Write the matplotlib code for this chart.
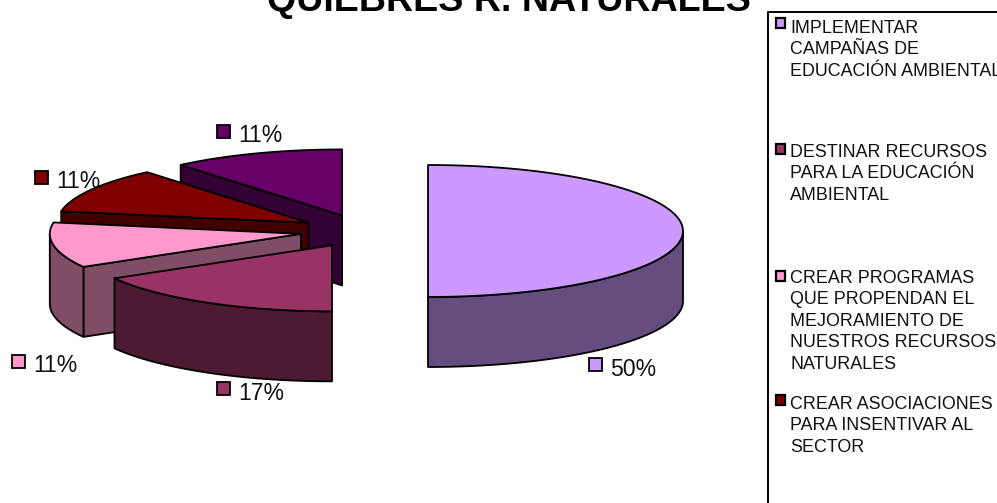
"""
Exploded 3D pie drawn by hand with polygons, matplotlib has no 3D pie.
"""
import numpy as np
import matplotlib
matplotlib.use('Agg')
import matplotlib.pyplot as plt
from matplotlib.patches import Polygon, Rectangle

plt.rcParams['font.family'] = ['Liberation Sans', 'DejaVu Sans']

title = 'QUIEBRES R. NATURALES'
values = [9, 3, 2, 2, 2]
pct_labels = ['50%', '17%', '11%', '11%', '11%']
colors = ['#CC99FF', '#993366', '#FF99CC', '#800000', '#660066']
legend_labels = [
    'IMPLEMENTAR\nCAMPAÑAS DE\nEDUCACIÓN AMBIENTAL',
    'DESTINAR RECURSOS\nPARA LA EDUCACIÓN\nAMBIENTAL',
    'CREAR PROGRAMAS\nQUE PROPENDAN EL\nMEJORAMIENTO DE\nNUESTROS RECURSOS\nNATURALES',
    'CREAR ASOCIACIONES\nPARA INSENTIVAR AL\nSECTOR',
]

# layout, in pixels of the figure
W, H = 997, 503
cx, cy = 364, 231
rx, ry = 255, 66
explode = 64
depth = 70
label_pos = [(610, 369), (238, 393), (33, 366), (56, 182), (238, 136)]
legend_text_y = [20, 144, 270, 396]
legend_mark_y = [18, 144, 271, 395]


def arc(x0, y0, a0, a1):
    # a is measured clockwise from the top of the ellipse
    t = np.radians(np.linspace(a0, a1, 80))
    # the left half comes out a bit narrower in the original
    r = rx if a0 < 180 else rx*0.985
    return np.column_stack([x0 + r*np.sin(t), y0 - ry*np.cos(t)])


def shade(c):
    return tuple(v*0.5 for v in matplotlib.colors.to_rgb(c))


def face(ax, pts, color):
    ax.add_patch(Polygon(pts, closed=True, facecolor=color, edgecolor='black',
                         linewidth=1.3, joinstyle='round'))


fig = plt.figure(figsize=(W/100, H/100), dpi=100)
ax = fig.add_axes([0, 0, 1, 1])
ax.set_xlim(0, W)
ax.set_ylim(H, 0)
ax.axis('off')

angles = 360*np.cumsum([0] + values)/sum(values)
slices = []
for i in range(len(values)):
    a0, a1 = angles[i], angles[i+1]
    mid = np.radians((a0+a1)/2)
    x0 = cx + explode*np.sin(mid)
    y0 = cy - explode*ry/rx*np.cos(mid)
    slices.append((a0, a1, x0, y0))

# back to front: the last slices sit behind the first ones
for i in [4, 3, 2, 1, 0]:
    a0, a1, x0, y0 = slices[i]
    side = shade(colors[i])
    # cut face at the start angle, only seen on the left half
    if 180 < a0 < 360:
        start = arc(x0, y0, a0, a0)[0]
        face(ax, [(x0, y0), start, start + [0, depth], (x0, y0 + depth)], side)
    # outer wall, only the part in the front half of the ellipse
    b0, b1 = max(a0, 90), min(a1, 270)
    if b1 > b0:
        rim = arc(x0, y0, b0, b1)
        face(ax, np.vstack([rim, rim[::-1] + [0, depth]]), side)
    face(ax, np.vstack([[(x0, y0)], arc(x0, y0, a0, a1)]), colors[i])

ax.text(509, 11, title, fontsize=27.1, fontweight='bold', ha='center',
        va='baseline', color='black', clip_on=False)

for i, (x, y) in enumerate(label_pos):
    ax.add_patch(Rectangle((x-21, y-11), 12.5, 12.5, facecolor=colors[i],
                           edgecolor='black', linewidth=1.3, zorder=5))
    ax.text(x, y, pct_labels[i], fontsize=16.6, ha='left', va='center',
            color='#111111', zorder=6)

# legend frame runs off the right and bottom of the picture
ax.plot([W+5, 768, 768], [12, 12, H+5], color='black', linewidth=1.4, clip_on=True)
for i, lab in enumerate(legend_labels):
    ax.add_patch(Rectangle((776, legend_mark_y[i]), 9, 9.5, facecolor=colors[i],
                           edgecolor='black', linewidth=1.6, zorder=5))
    ax.text(790, legend_text_y[i], lab, fontsize=12.9, ha='left', va='top',
            linespacing=1.34, color='#111111')

fig.savefig('out.png', dpi=100)
